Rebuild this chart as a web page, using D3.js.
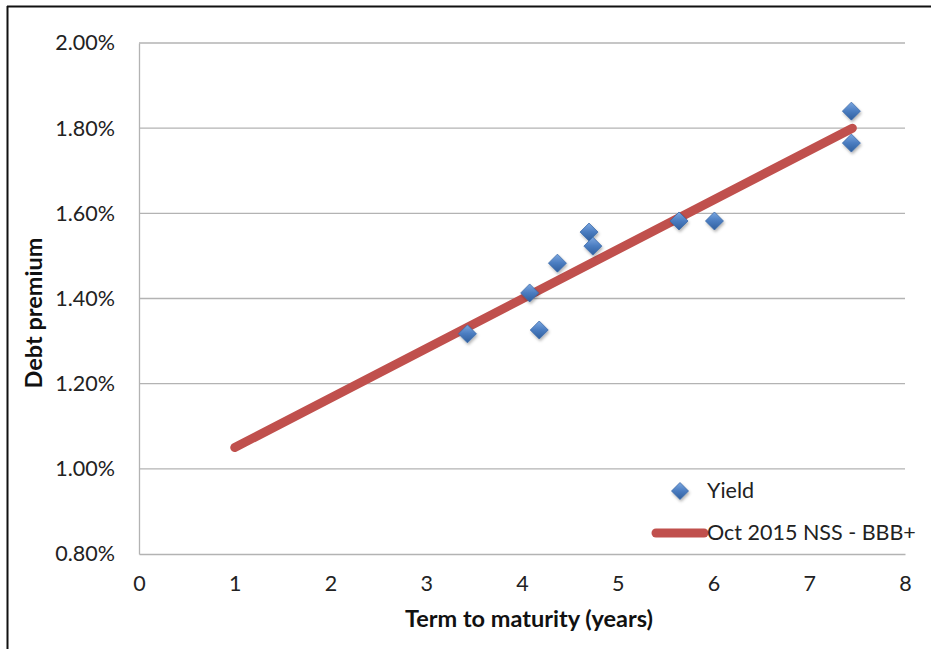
<!DOCTYPE html>
<html><head><meta charset="utf-8">
<script src="https://cdn.jsdelivr.net/npm/d3@7"></script>
<style>body{margin:0;background:#fff;} svg{display:block;}</style>
</head><body>
<svg id="c" width="931" height="649"></svg>
<script>
const xTicks = [0,1,2,3,4,5,6,7,8];
const yTicks = [0.80,1.00,1.20,1.40,1.60,1.80,2.00];
const yieldTerm = [3.43,4.08,4.18,4.37,4.70,4.74,5.64,6.01,7.44,7.44];
const yieldValue = [1.317,1.413,1.326,1.483,1.556,1.523,1.582,1.582,1.840,1.765];
const nssTerm = [1.0,7.45];
const nssValue = [1.05,1.80];
const legendLabels = ["Yield","Oct 2015 NSS - BBB+"];

const svg = d3.select("#c");
const font = "Lato, 'Open Sans', sans-serif";
const x = d3.scaleLinear().domain([0,8]).range([139,905]);
const y = d3.scaleLinear().domain([0.8,2.0]).range([554,43]);

svg.append("line").attr("x1",7).attr("x2",931).attr("y1",6.5).attr("y2",6.5).attr("stroke","#111").attr("stroke-width",2);
svg.append("line").attr("x1",7.5).attr("x2",7.5).attr("y1",6).attr("y2",649).attr("stroke","#111").attr("stroke-width",2);

const defs = svg.append("defs");
const g = defs.append("linearGradient").attr("id","dg").attr("x1","0").attr("y1","0").attr("x2","0").attr("y2","1");
g.append("stop").attr("offset","0%").attr("stop-color","#7BA7E0");
g.append("stop").attr("offset","50%").attr("stop-color","#4A7CC0");
g.append("stop").attr("offset","100%").attr("stop-color","#2F5F9E");
const f = defs.append("filter").attr("id","sh").attr("x","-50%").attr("y","-50%").attr("width","200%").attr("height","200%");
f.append("feDropShadow").attr("dx",1).attr("dy",2).attr("stdDeviation",1.5).attr("flood-color","#000").attr("flood-opacity",0.3);

svg.append("g").selectAll("line").data(yTicks.filter(d=>d>0.8)).join("line")
  .attr("x1",x(0)).attr("x2",x(8)).attr("y1",d=>y(d)).attr("y2",d=>y(d))
  .attr("stroke","#B3B3B3").attr("stroke-width",1.3);

const xa = svg.append("g").attr("transform",`translate(0,${y(0.8)})`)
  .call(d3.axisBottom(x).tickValues(xTicks).tickSize(0).tickPadding(22).tickFormat(d3.format("d")));
const ya = svg.append("g").attr("transform",`translate(${x(0)},0)`)
  .call(d3.axisLeft(y).tickValues(yTicks).tickSize(0).tickPadding(24).tickFormat(d=>d.toFixed(2)+"%"));
[xa,ya].forEach(a=>{
  a.select(".domain").attr("stroke","#B3B3B3").attr("stroke-width",1.3);
  a.selectAll("text").attr("font-family",font).attr("font-size",21.5).attr("fill","#222");
});

svg.append("path").datum(nssTerm.map((t,i)=>[t,nssValue[i]]))
  .attr("d",d3.line().x(d=>x(d[0])).y(d=>y(d[1])))
  .attr("fill","none").attr("stroke","#C0504D").attr("stroke-width",9).attr("stroke-linecap","round");

const diamond = (cx,cy,r)=>`M${cx},${cy-r}L${cx+r},${cy}L${cx},${cy+r}L${cx-r},${cy}Z`;
svg.append("g").selectAll("path").data(yieldTerm.map((t,i)=>[t,yieldValue[i]])).join("path")
  .attr("d",d=>diamond(x(d[0]),y(d[1]),9))
  .attr("fill","url(#dg)").attr("stroke","#3C6BAA").attr("stroke-width",0.8).attr("filter","url(#sh)");

svg.append("text").attr("x",529).attr("y",627).attr("text-anchor","middle")
  .attr("font-family",font).attr("font-weight","bold").attr("font-size",23.5).attr("fill","#111")
  .text("Term to maturity (years)");
svg.append("text").attr("transform","translate(42,313) rotate(-90)").attr("text-anchor","middle")
  .attr("font-family",font).attr("font-weight","bold").attr("font-size",23.5).attr("fill","#111")
  .text("Debt premium");

svg.append("path").attr("d",diamond(680,491,8.5)).attr("fill","url(#dg)").attr("stroke","#3C6BAA").attr("stroke-width",0.8).attr("filter","url(#sh)");
svg.append("text").attr("x",707).attr("y",498).attr("font-family",font).attr("font-size",21.5).attr("fill","#222").text(legendLabels[0]);
svg.append("line").attr("x1",656).attr("x2",704).attr("y1",533).attr("y2",533).attr("stroke","#C0504D").attr("stroke-width",9).attr("stroke-linecap","round");
svg.append("text").attr("x",707).attr("y",540).attr("font-family",font).attr("font-size",21.5).attr("fill","#222").text(legendLabels[1]);
</script>
</body></html>
